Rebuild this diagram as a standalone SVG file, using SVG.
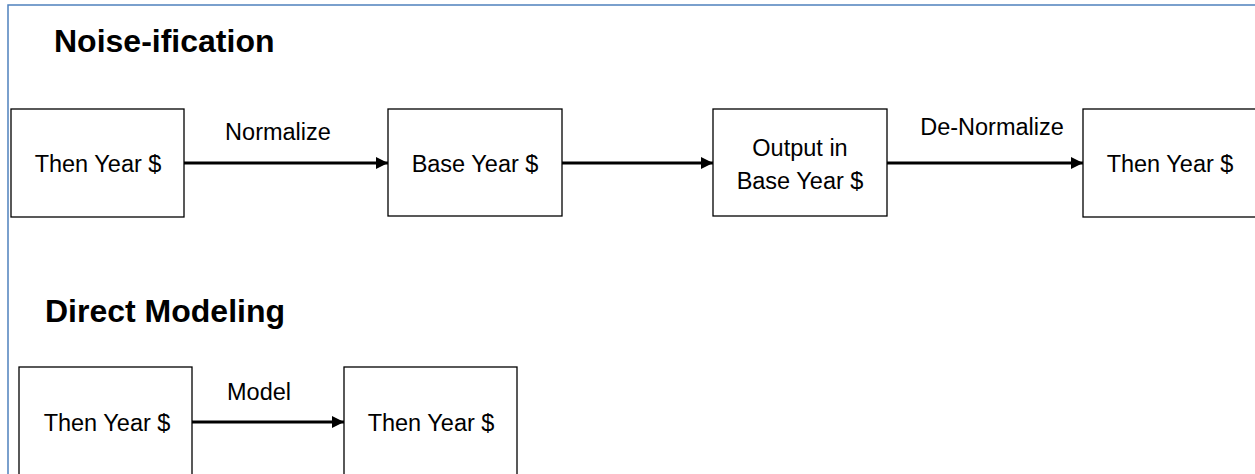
<svg xmlns="http://www.w3.org/2000/svg" width="1255" height="474" viewBox="0 0 1255 474">
<defs>
<style>
.frame{fill:none;stroke:#4f81bd;stroke-width:1.5}
.box{fill:#fff;stroke:#000;stroke-width:1.3}
.t{font-family:"Liberation Sans",Arial,sans-serif;font-size:23.5px;fill:#000;text-anchor:middle}
.h{font-family:"Liberation Sans",Arial,sans-serif;font-size:32px;font-weight:bold;fill:#000}
.c{stroke:#000;stroke-width:3;fill:none;marker-end:url(#ah)}
</style>
<marker id="ah" markerWidth="4" markerHeight="4" refX="4" refY="2" orient="auto" markerUnits="strokeWidth">
<path d="M0,0 L4,2 L0,4 Z" fill="#000"/>
</marker>
</defs>
<rect width="1255" height="474" fill="#fff"/>
<rect class="frame" x="8" y="5" width="1260" height="480"/>
<text class="h" x="54" y="52">Noise-ification</text>
<text class="h" x="45" y="322">Direct Modeling</text>
<g id="connectors">
<line class="c" x1="184" y1="163" x2="388" y2="163"/>
<line class="c" x1="562" y1="163" x2="713" y2="163"/>
<line class="c" x1="887" y1="163" x2="1083" y2="163"/>
<line class="c" x1="192" y1="422" x2="344" y2="422"/>
<text class="t" x="278" y="140">Normalize</text>
<text class="t" x="992" y="135">De-Normalize</text>
<text class="t" x="259" y="400">Model</text>
</g>
<g id="n1"><rect class="box" x="11" y="109" width="173" height="108"/><text class="t" x="98" y="172">Then Year $</text></g>
<g id="n2"><rect class="box" x="388" y="109" width="174" height="107"/><text class="t" x="475" y="172">Base Year $</text></g>
<g id="n3"><rect class="box" x="713" y="109" width="174" height="107"/><text class="t" x="800" y="156">Output in</text><text class="t" x="800" y="189">Base Year $</text></g>
<g id="n4"><rect class="box" x="1083" y="109" width="200" height="108"/><text class="t" x="1170" y="172">Then Year $</text></g>
<g id="n5"><rect class="box" x="19" y="367" width="173" height="120"/><text class="t" x="107" y="431">Then Year $</text></g>
<g id="n6"><rect class="box" x="344" y="367" width="173" height="120"/><text class="t" x="431" y="431">Then Year $</text></g>
</svg>
